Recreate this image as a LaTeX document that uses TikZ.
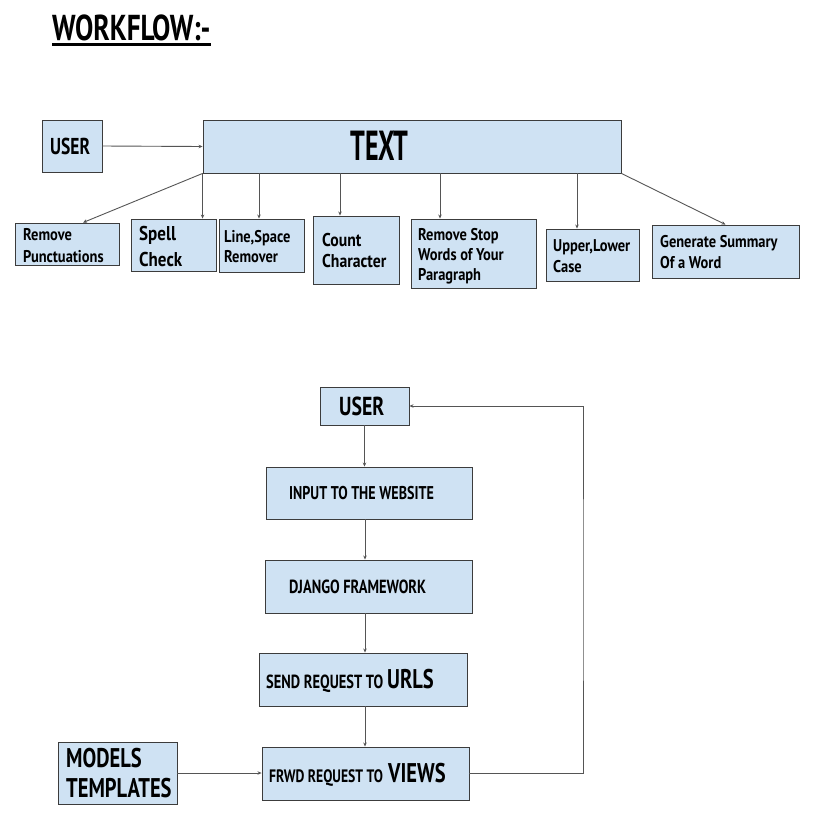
\documentclass[tikz,border=0pt]{standalone}
\usepackage{fontspec}
\newfontfamily\osw{PT Sans}[FakeStretch=0.76]
\newfontfamily\oswl{PT Sans}[FakeStretch=0.85]
\newfontfamily\oswt{PT Sans}[FakeStretch=0.62]
\usetikzlibrary{arrows.meta}
\newcommand\fsz[1]{\fontsize{#1}{#1}\selectfont}
\definecolor{boxfill}{HTML}{CFE2F3}
\definecolor{boxline}{HTML}{3C3C3C}
\definecolor{arrline}{HTML}{555555}
\tikzset{
  box/.style={draw=boxline, fill=boxfill, line width=0.9pt, inner sep=0pt, rectangle},
  lbl/.style={anchor=base west, inner sep=0pt, font=\osw\bfseries, text=black},
  arr/.style={draw=arrline, line width=0.9pt, -{Stealth[length=4pt,width=3.5pt]}},
  lin/.style={draw=arrline, line width=0.9pt}
}
\begin{document}
\begin{tikzpicture}[x=1pt,y=-1pt]
\useasboundingbox (0,0) rectangle (818,839);
\fill[white] (0,0) rectangle (818,839);
% title
\node[lbl, font=\osw\bfseries\fsz{36}] (title) at (52,40) {WORKFLOW:-};
\draw[line width=3pt] ([yshift=-4.5pt]title.base west) -- ([yshift=-4.5pt]title.base east);

% top boxes
\node[box, minimum width=60, minimum height=52] (user1) at (72,146) {};
\node[box, minimum width=418, minimum height=53] (text) at (412,146.5) {};
\node[box, minimum width=104, minimum height=42] (rp) at (67,244) {};
\node[box, minimum width=85, minimum height=52] (sc) at (173.5,245) {};
\node[box, minimum width=85, minimum height=53] (ls) at (261.5,245.5) {};
\node[box, minimum width=86, minimum height=68] (cc) at (356,250) {};
\node[box, minimum width=125, minimum height=69] (rs) at (473.5,253.5) {};
\node[box, minimum width=93, minimum height=52] (ul) at (592.5,255) {};
\node[box, minimum width=147, minimum height=53] (gs) at (725.5,251.5) {};

% top labels
\node[lbl, font=\osw\bfseries\fsz{23}] (user1t) at (50,154) {USER};
\node[lbl, anchor=base, font=\oswt\bfseries\fsz{42}] (textt) at (379.5,160) {TEXT};
\node[lbl, font=\oswl\bfseries\fsz{17}] (rpt1) at (23,240) {Remove};
\node[lbl, font=\oswl\bfseries\fsz{17}] (rpt2) at (23,262) {Punctuations};
\node[lbl, font=\oswl\bfseries\fsz{20}] (sct1) at (139,240) {Spell};
\node[lbl, font=\oswl\bfseries\fsz{20}] (sct2) at (139,266) {Check};
\node[lbl, font=\oswl\bfseries\fsz{17}] (lst1) at (224,242) {Line,Space};
\node[lbl, font=\oswl\bfseries\fsz{17}] (lst2) at (224,262) {Remover};
\node[lbl, font=\oswl\bfseries\fsz{18.5}] (cct1) at (322,246) {Count};
\node[lbl, font=\oswl\bfseries\fsz{18.5}] (cct2) at (322,267) {Character};
\node[lbl, font=\oswl\bfseries\fsz{17}] (rst1) at (418,240) {Remove Stop};
\node[lbl, font=\oswl\bfseries\fsz{17}] (rst2) at (418,260) {Words of Your};
\node[lbl, font=\oswl\bfseries\fsz{17}] (rst3) at (418,280) {Paragraph};
\node[lbl, font=\oswl\bfseries\fsz{17}] (ult1) at (553,251) {Upper,Lower};
\node[lbl, font=\oswl\bfseries\fsz{17}] (ult2) at (553,272) {Case};
\node[lbl, font=\oswl\bfseries\fsz{17}] (gst1) at (660,247) {Generate Summary};
\node[lbl, font=\oswl\bfseries\fsz{17}] (gst2) at (660,268) {Of a Word};

% top connectors
\draw[arr] (user1.east) -- (text.west);
\draw[arr] (text.south west) -- ([xshift=16pt]rp.north);
\draw[arr] (text.south west) -- (text.south west |- sc.north);
\coordinate (lsn) at ([xshift=-2.5pt]ls.north);
\draw[arr] (text.south -| lsn) -- (lsn);
\coordinate (ccn) at ([xshift=-16pt]cc.north);
\draw[arr] (text.south -| ccn) -- (ccn);
\coordinate (rsn) at ([xshift=-33.5pt]rs.north);
\draw[arr] (text.south -| rsn) -- (rsn);
\coordinate (uln) at ([xshift=-15.5pt]ul.north);
\draw[arr] (text.south -| uln) -- (uln);
\draw[arr] (text.south east) -- (gs.north);

% bottom boxes
\node[box, minimum width=89, minimum height=38] (user2) at (364.5,406) {};
\node[box, minimum width=206, minimum height=52] (inp) at (369,493) {};
\node[box, minimum width=207, minimum height=53] (dj) at (368.5,586.5) {};
\node[box, minimum width=208, minimum height=53] (send) at (363,679.5) {};
\node[box, minimum width=207, minimum height=53] (frwd) at (365.5,773.5) {};
\node[box, minimum width=119, minimum height=62] (models) at (117.5,773) {};

% bottom labels
\node[lbl, font=\osw\bfseries\fsz{26}] (user2t) at (339,415) {USER};
\node[lbl, font=\osw\bfseries\fsz{18.5}] (inpt) at (289,499) {INPUT TO THE WEBSITE};
\node[lbl, font=\osw\bfseries\fsz{19}] (djt) at (289,593) {DJANGO FRAMEWORK};
\node[lbl, font=\osw\bfseries\fsz{19}] (sendt) at (266,688) {SEND REQUEST TO};
\node[lbl, font=\osw\bfseries\fsz{27}] (sendu) at (387,688) {URLS};
\node[lbl, font=\osw\bfseries\fsz{18}] (frwdt) at (269,782) {FRWD REQUEST TO};
\node[lbl, font=\osw\bfseries\fsz{27}] (frwdv) at (388,782) {VIEWS};
\node[lbl, font=\osw\bfseries\fsz{27}] (modt1) at (66,767) {MODELS};
\node[lbl, font=\osw\bfseries\fsz{27}] (modt2) at (66,797) {TEMPLATES};

% bottom connectors
\coordinate (colx) at (365,0);
\draw[arr] (user2.south) -- (user2.south |- inp.north);
\draw[arr] (colx |- inp.south) -- (colx |- dj.north);
\draw[arr] (colx |- dj.south) -- (colx |- send.north);
\draw[arr] (colx |- send.south) -- (colx |- frwd.north);
\draw[arr] (models.east) -- (models.east -| frwd.west);
\coordinate (loopc) at (583,590);
\draw[arr] (frwd.east) -| (loopc) |- (user2.east);
\end{tikzpicture}
\end{document}
